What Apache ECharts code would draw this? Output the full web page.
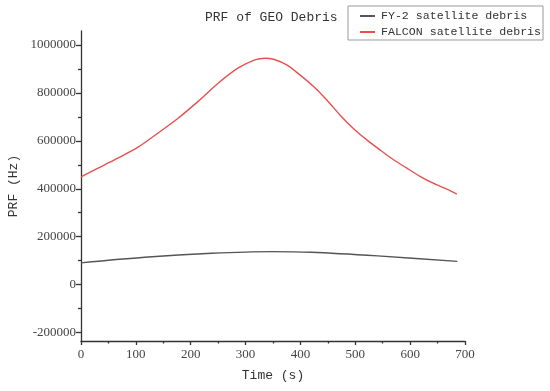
<!DOCTYPE html>
<html>
<head>
<meta charset="utf-8">
<script src="https://cdn.jsdelivr.net/npm/echarts@6/dist/echarts.min.js"></script>
<style>html,body{margin:0;padding:0;background:#fff}#c{width:550px;height:391px}</style>
</head>
<body>
<div id="c"></div>
<script>
const titleText = 'PRF of GEO Debris';
const seriesNames = ['FY-2 satellite debris', 'FALCON satellite debris'];
const fy2Time = [0, 116, 238, 347, 420, 541, 686];
const fy2Value = [91000, 114500, 131000, 137900, 135100, 119900, 97000];
const falconTime = [0, 31, 67, 104, 140, 177, 213, 250, 286, 317, 335, 351, 375, 399, 424, 448, 472, 496, 521, 545, 569, 594, 618, 642, 667, 685];
const falconValue = [450000, 485700, 527400, 573300, 631700, 694300, 763500, 840200, 902800, 937400, 944500, 940300, 916600, 874900, 826100, 770600, 708000, 652500, 603800, 562000, 522000, 485700, 452000, 423100, 398000, 378000];
const yMajorTicks = [-200000, 0, 200000, 400000, 600000, 800000, 1000000];
const yMinorTicks = [-100000, 100000, 300000, 500000, 700000, 900000];

const pair = (t, v) => t.map((x, i) => [x, v[i]]);
const mono = 'Liberation Mono';
const serif = 'Liberation Serif';
const axisCol = '#333';

const chart = echarts.init(document.getElementById('c'));
chart.setOption({
  animation: false,
  backgroundColor: '#fff',
  title: {
    text: titleText, left: 205, top: 11, padding: 0,
    textStyle: { fontFamily: mono, fontSize: 13, fontWeight: 'normal', color: '#333' }
  },
  legend: {
    orient: 'vertical', left: 348, top: 6,
    data: seriesNames,
    backgroundColor: '#fff',
    borderColor: '#999', borderWidth: 1, borderRadius: 0,
    padding: [4, 2, 2, 12], itemGap: 4,
    itemWidth: 15, itemHeight: 2, icon: 'rect',
    textStyle: { fontFamily: mono, fontSize: 11.6, color: '#333', padding: [0, 0, 0, 1] }
  },
  grid: { left: 81, right: 85, top: 31, bottom: 50, containLabel: false, outerBoundsMode: 'none' },
  xAxis: {
    type: 'value', min: 0, max: 700, interval: 100,
    name: 'Time (s)', nameLocation: 'middle', nameGap: 28,
    nameTextStyle: { fontFamily: mono, fontSize: 13, color: '#333' },
    axisLine: { show: true, onZero: false, lineStyle: { color: axisCol, width: 1.3 } },
    axisTick: { show: true, length: 4, inside: false, lineStyle: { color: axisCol, width: 1.3 } },
    minorTick: { show: true, splitNumber: 2, length: 2.5, lineStyle: { color: axisCol, width: 1.3 } },
    axisLabel: { fontFamily: serif, fontSize: 13, color: '#444', margin: 7 },
    splitLine: { show: false }
  },
  yAxis: [{
    type: 'value', min: -235000, max: 1058000,
    name: 'PRF (Hz)', nameLocation: 'middle', nameGap: 61,
    nameTextStyle: { fontFamily: mono, fontSize: 13, color: '#333' },
    axisLine: { show: true, onZero: false, lineStyle: { color: axisCol, width: 1.3 } },
    axisTick: { show: true, length: 5, customValues: yMajorTicks, lineStyle: { color: axisCol, width: 1.3 } },
    axisLabel: { fontFamily: serif, fontSize: 13, color: '#444', margin: 5, customValues: yMajorTicks,
      formatter: v => String(v) },
    splitLine: { show: false }
  }, {
    type: 'value', min: -235000, max: 1058000, position: 'left',
    axisLine: { show: false, onZero: false },
    axisTick: { show: true, length: 3, customValues: yMinorTicks, lineStyle: { color: axisCol, width: 1.3 } },
    axisLabel: { show: false },
    splitLine: { show: false }
  }],
  series: [{
    name: seriesNames[0], type: 'line', data: pair(fy2Time, fy2Value),
    smooth: 0.3, showSymbol: false, symbol: 'none',
    lineStyle: { color: '#555', width: 1.4 }, itemStyle: { color: '#555' }
  }, {
    name: seriesNames[1], type: 'line', data: pair(falconTime, falconValue),
    smooth: 0.3, showSymbol: false, symbol: 'none',
    lineStyle: { color: '#e85050', width: 1.4 }, itemStyle: { color: '#e85050' }
  }]
});
</script>
</body>
</html>
